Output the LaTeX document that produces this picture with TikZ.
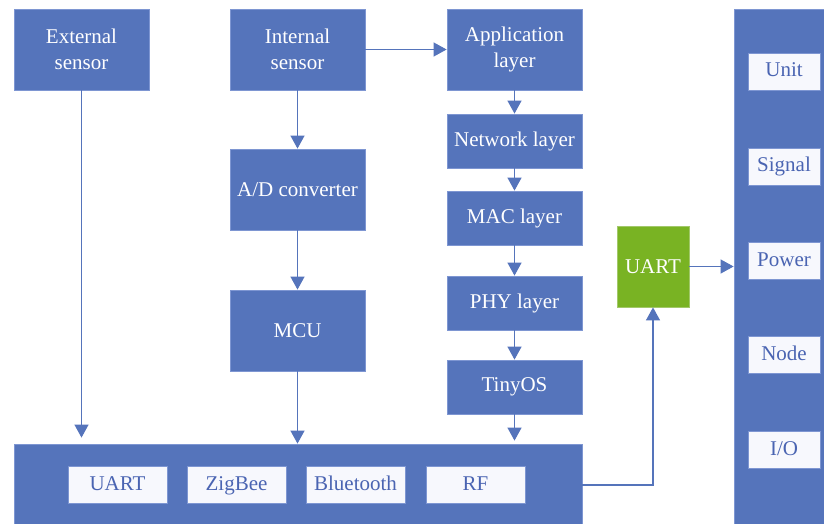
\documentclass[tikz,border=0pt]{standalone}
\usepackage{fontspec}
\setmainfont{Liberation Serif}
\usetikzlibrary{arrows.meta}
\definecolor{boxblue}{HTML}{5574BB}
\definecolor{edgeblue}{HTML}{7E96D2}
\definecolor{uartgreen}{HTML}{79B323}
\definecolor{edgegreen}{HTML}{A2C86A}
\definecolor{labelblue}{HTML}{4A64B2}
\definecolor{portfill}{HTML}{F7F8FD}
\tikzset{
  block/.style={draw=edgeblue, line width=0.8pt, fill=boxblue, text=white,
    font=\fontsize{21}{26}\selectfont, align=center, inner sep=0pt},
  greenblock/.style={block, draw=edgegreen, fill=uartgreen},
  port/.style={draw=edgeblue, line width=0.8pt, fill=portfill,
    text=labelblue, font=\fontsize{21}{26}\selectfont, inner sep=0pt,
    text height=14pt, text depth=4pt},
  link/.style={draw=boxblue, line width=1.2pt,
    -{Triangle[width=14pt,length=13pt]}},
}
\begin{document}
\begin{tikzpicture}[x=1pt,y=-1pt]
\useasboundingbox (0,0) rectangle (824,524);
\fill[white] (0,0) rectangle (824,524);

% sensor column and protocol stack
\node[block, minimum width=135pt, minimum height=81pt] (ext) at (81.5,49.5) {External\\sensor};
\node[block, minimum width=135pt, minimum height=81pt] (int) at (297.5,49.5) {Internal\\sensor};
\node[block, minimum width=135pt, minimum height=81pt] (app) at (514.5,49.5) {Application\\layer};
\node[block, minimum width=135pt, minimum height=54pt] (net) at (514.5,141) {Network layer};
\node[block, minimum width=135pt, minimum height=54pt] (mac) at (514.5,218) {MAC layer};
\node[block, minimum width=135pt, minimum height=54pt] (phy) at (514.5,303) {PHY layer};
\node[block, minimum width=135pt, minimum height=54pt] (tiny) at (514.5,387) {TinyOS};
\node[block, minimum width=135pt, minimum height=81pt] (adc) at (297.5,189.5) {A/D converter};
\node[block, minimum width=135pt, minimum height=81pt] (mcu) at (297.5,330.5) {MCU};

% communication bus at the bottom
\node[block, minimum width=568pt, minimum height=90pt] (bus) at (298,489) {};
\node[port, minimum width=99pt, minimum height=37pt] (puart) at (117.5,485) {UART};
\node[port, minimum width=99pt, minimum height=37pt] (pzig) at (236.5,485) {ZigBee};
\node[port, minimum width=99pt, minimum height=37pt] (pbt) at (355.5,485) {Bluetooth};
\node[port, minimum width=99pt, minimum height=37pt] (prf) at (475.5,485) {RF};

% serial bridge
\node[greenblock, minimum width=72pt, minimum height=81pt] (uart) at (653,266.5) {UART};

% host side panel
\node[block, minimum width=100pt, minimum height=530pt] (host) at (784,274) {};
\node[port, minimum width=72pt, minimum height=37pt] (unit) at (784,71.5) {Unit};
\node[port, minimum width=72pt, minimum height=37pt] (signal) at (784,166.5) {Signal};
\node[port, minimum width=72pt, minimum height=37pt] (power) at (784,261) {Power};
\node[port, minimum width=72pt, minimum height=37pt] (node) at (784,355) {Node};
\node[port, minimum width=72pt, minimum height=37pt] (io) at (784,450) {I/O};

% connectors
\draw[link, shorten >=6pt] (ext.south) -- (ext.south |- bus.north);
\draw[link] (int.south) -- (adc.north);
\draw[link] (adc.south) -- (mcu.north);
\draw[link] (mcu.south) -- (mcu.south |- bus.north);
\draw[link] (int.east) -- (app.west);
\draw[link] (app.south) -- (net.north);
\draw[link] (net.south) -- (mac.north);
\draw[link] (mac.south) -- (phy.north);
\draw[link] (phy.south) -- (tiny.north);
\draw[link, shorten >=3pt] (tiny.south) -- (tiny.south |- bus.north);
\draw[link] (prf -| bus.east) -| (uart.south);
\draw[link] (uart.east) -- (uart.east -| host.west);
\end{tikzpicture}
\end{document}
